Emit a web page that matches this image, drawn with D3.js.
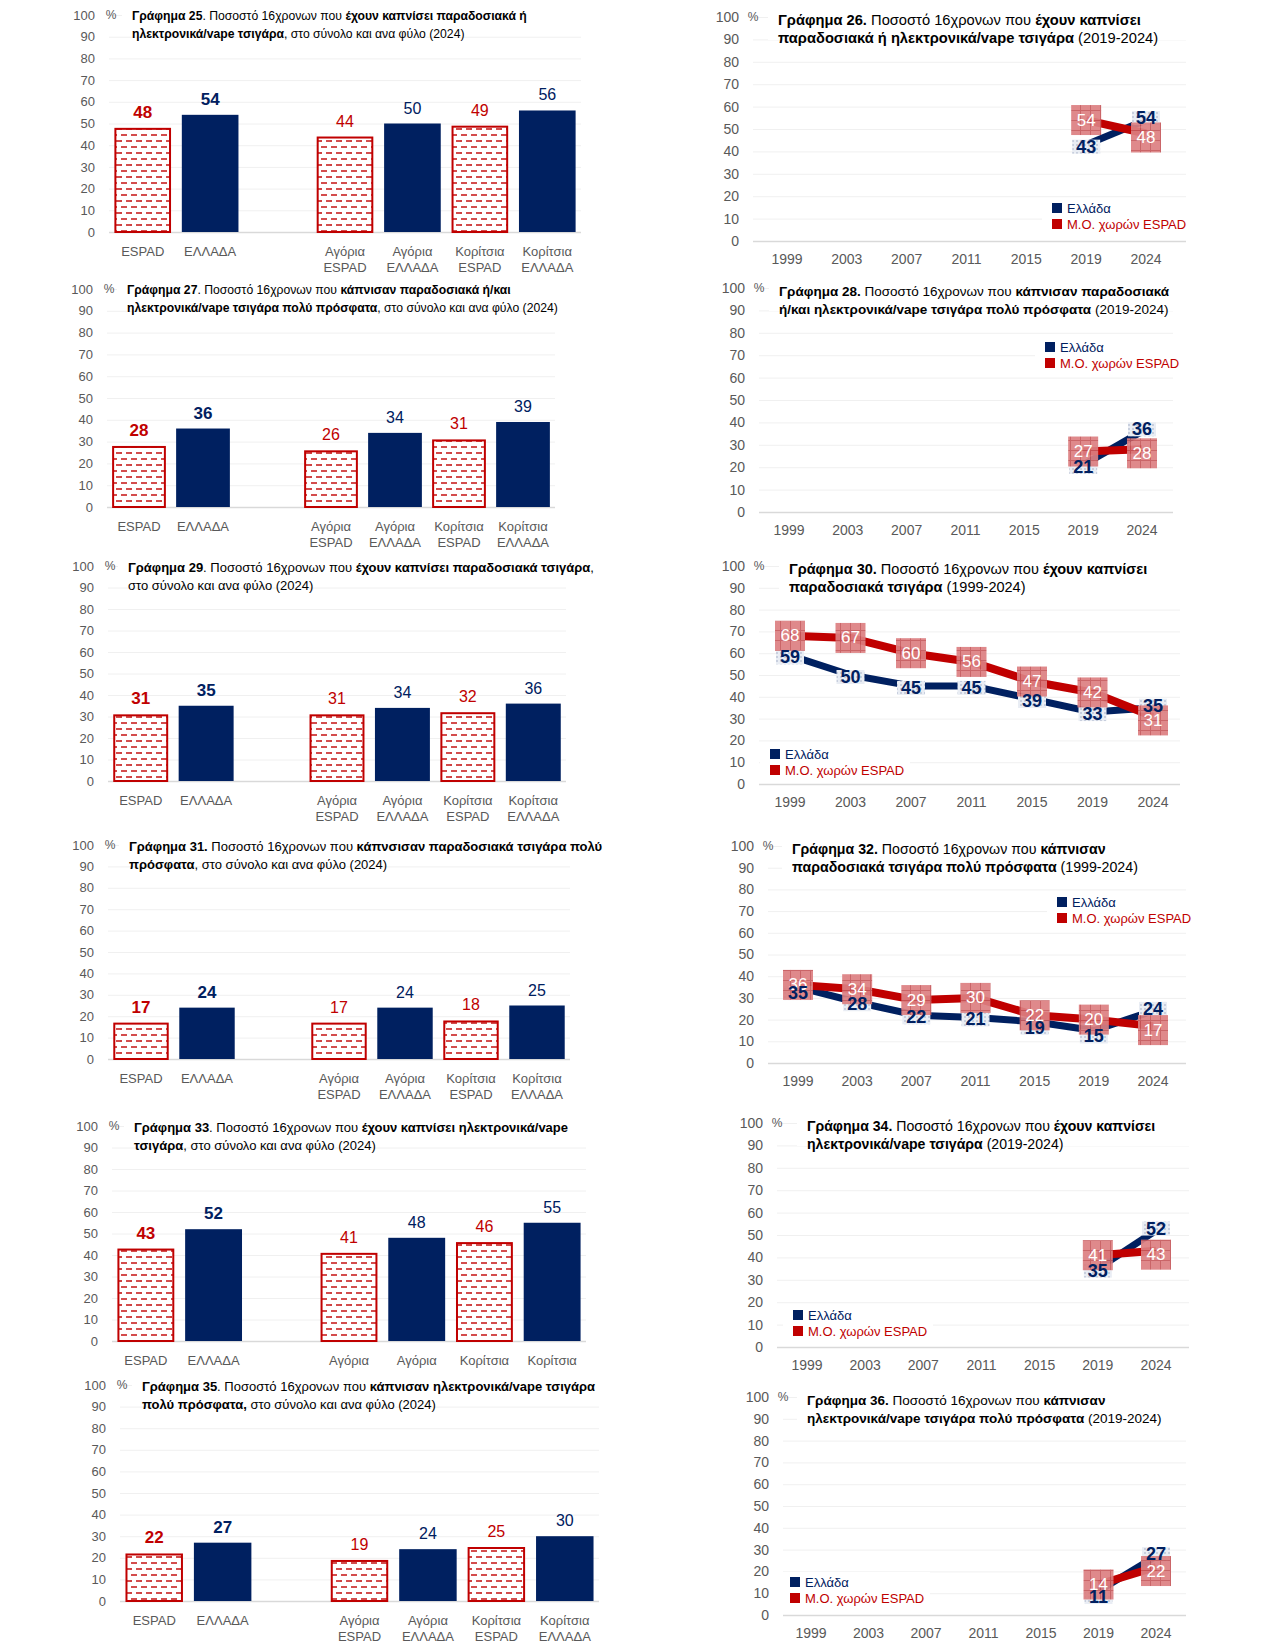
<!DOCTYPE html>
<html>
<head>
<meta charset="utf-8">
<script src="https://cdn.jsdelivr.net/npm/d3@7"></script>
<style>
  body { margin: 0; background: #fff; }
  svg { display: block; }
  text { font-family: "Liberation Sans", Arial, sans-serif; }
</style>
</head>
<body>
<div id="chart"></div>
<script>
// ---------- data ----------
const barKeys = ["ESPAD", "ΕΛΛΑΔΑ", "Αγόρια ESPAD", "Αγόρια ΕΛΛΑΔΑ", "Κορίτσια ESPAD", "Κορίτσια ΕΛΛΑΔΑ"];
const barLabels = [["ESPAD"], ["ΕΛΛΑΔΑ"], ["Αγόρια", "ESPAD"], ["Αγόρια", "ΕΛΛΑΔΑ"], ["Κορίτσια", "ESPAD"], ["Κορίτσια", "ΕΛΛΑΔΑ"]];
const bars25 = [48, 54, 44, 50, 49, 56];
const bars27 = [28, 36, 26, 34, 31, 39];
const bars29 = [31, 35, 31, 34, 32, 36];
const bars31 = [17, 24, 17, 24, 18, 25];
const bars33 = [43, 52, 41, 48, 46, 55];
const bars35 = [22, 27, 19, 24, 25, 30];

const years = ["1999", "2003", "2007", "2011", "2015", "2019", "2024"];
const greece26 = [null, null, null, null, null, 43, 54];
const espad26  = [null, null, null, null, null, 54, 48];
const greece28 = [null, null, null, null, null, 21, 36];
const espad28  = [null, null, null, null, null, 27, 28];
const greece30 = [59, 50, 45, 45, 39, 33, 35];
const espad30  = [68, 67, 60, 56, 47, 42, 31];
const greece32 = [35, 28, 22, 21, 19, 15, 24];
const espad32  = [36, 34, 29, 30, 22, 20, 17];
const greece34 = [null, null, null, null, null, 35, 52];
const espad34  = [null, null, null, null, null, 41, 43];
const greece36 = [null, null, null, null, null, 11, 27];
const espad36  = [null, null, null, null, null, 14, 22];

const yTicks = [0, 10, 20, 30, 40, 50, 60, 70, 80, 90, 100];
const legendNames = ["Ελλάδα", "Μ.Ο. χωρών ESPAD"];

// titles: each line is a list of [text, bold]
const title25 = [[["Γράφημα 25", 1], [". Ποσοστό 16χρονων που ", 0], ["έχουν καπνίσει παραδοσιακά ή", 1]],
                 [["ηλεκτρονικά/vape τσιγάρα", 1], [", στο σύνολο και ανα φύλο (2024)", 0]]];
const title26 = [[["Γράφημα 26.", 1], [" Ποσοστό 16χρονων που ", 0], ["έχουν καπνίσει", 1]],
                 [["παραδοσιακά ή ηλεκτρονικά/vape τσιγάρα", 1], [" (2019-2024)", 0]]];
const title27 = [[["Γράφημα 27", 1], [". Ποσοστό 16χρονων που ", 0], ["κάπνισαν παραδοσιακά ή/και", 1]],
                 [["ηλεκτρονικά/vape τσιγάρα πολύ πρόσφατα", 1], [", στο σύνολο και ανα φύλο (2024)", 0]]];
const title28 = [[["Γράφημα 28.", 1], [" Ποσοστό 16χρονων που ", 0], ["κάπνισαν παραδοσιακά", 1]],
                 [["ή/και ηλεκτρονικά/vape τσιγάρα πολύ πρόσφατα", 1], [" (2019-2024)", 0]]];
const title29 = [[["Γράφημα 29", 1], [". Ποσοστό 16χρονων που ", 0], ["έχουν καπνίσει παραδοσιακά τσιγάρα", 1], [",", 0]],
                 [["στο σύνολο και ανα φύλο (2024)", 0]]];
const title30 = [[["Γράφημα 30.", 1], [" Ποσοστό 16χρονων που ", 0], ["έχουν καπνίσει", 1]],
                 [["παραδοσιακά τσιγάρα", 1], [" (1999-2024)", 0]]];
const title31 = [[["Γράφημα 31.", 1], [" Ποσοστό 16χρονων που ", 0], ["κάπνσισαν παραδοσιακά τσιγάρα πολύ", 1]],
                 [["πρόσφατα", 1], [", στο σύνολο και ανα φύλο (2024)", 0]]];
const title32 = [[["Γράφημα 32.", 1], [" Ποσοστό 16χρονων που ", 0], ["κάπνισαν", 1]],
                 [["παραδοσιακά τσιγάρα πολύ πρόσφατα", 1], [" (1999-2024)", 0]]];
const title33 = [[["Γράφημα 33", 1], [". Ποσοστό 16χρονων που ", 0], ["έχουν καπνίσει ηλεκτρονικά/vape", 1]],
                 [["τσιγάρα", 1], [", στο σύνολο και ανα φύλο (2024)", 0]]];
const title34 = [[["Γράφημα 34.", 1], [" Ποσοστό 16χρονων που ", 0], ["έχουν καπνίσει", 1]],
                 [["ηλεκτρονικά/vape τσιγάρα", 1], [" (2019-2024)", 0]]];
const title35 = [[["Γράφημα 35", 1], [". Ποσοστό 16χρονων που ", 0], ["κάπνισαν ηλεκτρονικά/vape τσιγάρα", 1]],
                 [["πολύ πρόσφατα,", 1], [" στο σύνολο και ανα φύλο (2024)", 0]]];
const title36 = [[["Γράφημα 36.", 1], [" Ποσοστό 16χρονων που ", 0], ["κάπνισαν", 1]],
                 [["ηλεκτρονικά/vape τσιγάρα πολύ πρόσφατα", 1], [" (2019-2024)", 0]]];

// ---------- setup ----------
const RED = "#c00000", NAVY = "#002060", GREY = "#595959";

let svg = d3.select("#chart").append("svg")
    .attr("width", 1275)
    .attr("height", 1650);

let defs = svg.append("defs");

// dashed horizontal hatch for ESPAD bars
let hatch = defs.append("pattern")
    .attr("id", "dashes")
    .attr("patternUnits", "userSpaceOnUse")
    .attr("width", 10).attr("height", 12);
hatch.append("rect").attr("width", 10).attr("height", 12).attr("fill", "#fff");
hatch.append("line").attr("x1", 1).attr("x2", 7).attr("y1", 3).attr("y2", 3)
    .attr("stroke", RED).attr("stroke-width", 1.4);
hatch.append("line").attr("x1", 6).attr("x2", 12).attr("y1", 9).attr("y2", 9)
    .attr("stroke", RED).attr("stroke-width", 1.4);
hatch.append("line").attr("x1", -4).attr("x2", 2).attr("y1", 9).attr("y2", 9)
    .attr("stroke", RED).attr("stroke-width", 1.4);

// small grid for ESPAD label boxes
let grid = defs.append("pattern")
    .attr("id", "grid")
    .attr("patternUnits", "userSpaceOnUse")
    .attr("width", 10).attr("height", 10);
grid.append("rect").attr("width", 10).attr("height", 10).attr("fill", "#dc7f81");
grid.append("path").attr("d", "M0 0.5H10M0.5 0V10")
    .attr("stroke", "#c5585b").attr("stroke-width", 1);

// dotted box behind Greece labels
let dots = defs.append("pattern")
    .attr("id", "dots")
    .attr("patternUnits", "userSpaceOnUse")
    .attr("width", 4).attr("height", 4);
dots.append("rect").attr("width", 4).attr("height", 4).attr("fill", "#e9edf4");
dots.append("circle").attr("cx", 1).attr("cy", 1).attr("r", 0.7).attr("fill", "#8d9bb8");

function drawTitle(g, lines, x, y, size, right) {
    g.append("rect")
        .attr("x", x - 10)
        .attr("y", y - 10)
        .attr("width", right - x + 10)
        .attr("height", 30)
        .attr("fill", "#fff");
    lines.forEach(function(line, i) {
        let t = g.append("text")
            .attr("x", x)
            .attr("y", y + i * 18)
            .attr("dominant-baseline", "central")
            .attr("font-size", size + "px")
            .attr("fill", "#000");
        line.forEach(function(seg) {
            t.append("tspan")
                .attr("font-weight", seg[1] ? "bold" : "normal")
                .text(seg[0]);
        });
    });
}

function drawYAxis(g, y, p, size) {
    let axis = g.append("g")
        .attr("transform", `translate(${p.left},0)`)
        .call(d3.axisLeft(y).tickValues(yTicks).tickSize(-(p.right - p.left)).tickPadding(14));
    axis.select(".domain").remove();
    axis.selectAll(".tick line")
        .attr("stroke", d => d === 0 ? "#d9d9d9" : "#f0f0f0")
        .attr("stroke-width", d => d === 0 ? 1.5 : 1);
    axis.selectAll(".tick text")
        .attr("fill", GREY)
        .attr("font-size", size + "px")
        .attr("font-family", "Liberation Sans, Arial, sans-serif");
    axis.selectAll(".tick").filter(d => d === 0).raise();
}

function barPanel(p, values, title, twoLines) {
    let g = svg.append("g");
    let y = d3.scaleLinear().domain([0, 100]).range([p.y0, p.y100]);
    let x = d3.scaleBand()
        .domain([barKeys[0], barKeys[1], "gap"].concat(barKeys.slice(2)))
        .range([p.left, p.right])
        .paddingInner(0.16)
        .paddingOuter(0.08);

    drawYAxis(g, y, p, 13);
    drawTitle(g, title, p.titleX, p.y100 + 1, p.titleSize, p.right);

    g.append("text")
        .attr("x", p.left + 2).attr("y", p.y100)
        .attr("dominant-baseline", "central")
        .attr("text-anchor", "middle")
        .attr("font-size", "12px").attr("fill", GREY)
        .text("%");

    let data = barKeys.map((k, i) => ({ key: k, value: values[i], i: i }));
    let espad = d => d.i % 2 === 0;

    g.selectAll(".bar")
        .data(data)
        .enter()
        .append("rect")
        .attr("x", d => x(d.key) + (espad(d) ? 1 : 0))
        .attr("y", d => y(d.value) + (espad(d) ? 1 : 0))
        .attr("width", d => x.bandwidth() - (espad(d) ? 2 : 0))
        .attr("height", d => y(0) - y(d.value) - (espad(d) ? 1 : 0))
        .attr("fill", d => espad(d) ? "url(#dashes)" : NAVY)
        .attr("stroke", d => espad(d) ? RED : "none")
        .attr("stroke-width", 2);

    g.selectAll(".val")
        .data(data)
        .enter()
        .append("text")
        .attr("x", d => x(d.key) + x.bandwidth() / 2)
        .attr("y", d => y(d.value) - 10)
        .attr("text-anchor", "middle")
        .attr("font-size", d => d.i < 2 ? "17px" : "16px")
        .attr("font-weight", d => d.i < 2 ? "bold" : "normal")
        .attr("fill", d => espad(d) ? RED : NAVY)
        .text(d => d.value);

    data.forEach(function(d) {
        let lines = twoLines ? barLabels[d.i] : [barLabels[d.i][0]];
        lines.forEach(function(l, j) {
            g.append("text")
                .attr("x", x(d.key) + x.bandwidth() / 2)
                .attr("y", p.y0 + 19 + j * 16)
                .attr("dominant-baseline", "central")
                .attr("text-anchor", "middle")
                .attr("font-size", "13px")
                .attr("fill", GREY)
                .text(l);
        });
    });
}

function linePanel(p, greece, espad, title) {
    let g = svg.append("g");
    let y = d3.scaleLinear().domain([0, 100]).range([p.y0, p.y100]);
    let x = d3.scalePoint().domain(years).range([p.x1, p.x2]);

    drawYAxis(g, y, p, 14);
    drawTitle(g, title, p.titleX, p.y100 + 3, p.titleSize, p.right);

    g.append("text")
        .attr("x", p.left).attr("y", p.y100)
        .attr("dominant-baseline", "central")
        .attr("text-anchor", "middle")
        .attr("font-size", "12px").attr("fill", GREY)
        .text("%");

    g.selectAll(".year")
        .data(years)
        .enter()
        .append("text")
        .attr("x", d => x(d))
        .attr("y", p.y0 + 18)
        .attr("dominant-baseline", "central")
        .attr("text-anchor", "middle")
        .attr("font-size", "14px")
        .attr("fill", GREY)
        .text(d => d);

    // legend with white box over the grid
    g.append("rect")
        .attr("x", p.legX - 10).attr("y", p.legY - 10)
        .attr("width", 150).attr("height", 36)
        .attr("fill", "#fff");
    legendNames.forEach(function(name, i) {
        let col = i === 0 ? NAVY : RED;
        g.append("rect")
            .attr("x", p.legX).attr("y", p.legY + i * 16 - 5)
            .attr("width", 10).attr("height", 10)
            .attr("fill", col);
        g.append("text")
            .attr("x", p.legX + 15).attr("y", p.legY + i * 16)
            .attr("dominant-baseline", "central")
            .attr("font-size", "13px")
            .attr("fill", col)
            .text(name);
    });

    // label nudges where the two series sit close together
    let gData = years.map(function(yr, i) {
        let other = espad[i];
        let dy = 0;
        if (other != null && greece[i] != null) {
            if (greece[i] < other) dy = (other - greece[i] <= 5) ? 6 : 2;
            else dy = -2;
        }
        return { year: yr, value: greece[i], dy: dy };
    }).filter(d => d.value != null);
    let eData = years.map(function(yr, i) {
        let dy = (greece[i] != null && greece[i] > espad[i]) ? 4 : 0;
        return { year: yr, value: espad[i], dy: dy };
    }).filter(d => d.value != null);
    let line = d3.line().x(d => x(d.year)).y(d => y(d.value));

    g.append("path")
        .datum(gData)
        .attr("d", line)
        .attr("fill", "none")
        .attr("stroke", NAVY)
        .attr("stroke-width", 7)
        .attr("stroke-linejoin", "round");

    g.append("path")
        .datum(eData)
        .attr("d", line)
        .attr("fill", "none")
        .attr("stroke", RED)
        .attr("stroke-width", 8)
        .attr("stroke-linejoin", "round");

    g.selectAll(".gbox")
        .data(gData)
        .enter()
        .append("rect")
        .attr("x", d => x(d.year) - 14)
        .attr("y", d => y(d.value) + d.dy - 7)
        .attr("width", 28)
        .attr("height", 14)
        .attr("fill", "url(#dots)");

    g.selectAll(".ebox")
        .data(eData)
        .enter()
        .append("rect")
        .attr("x", d => x(d.year) - 15)
        .attr("y", d => y(d.value) + d.dy - 15)
        .attr("width", 30)
        .attr("height", 30)
        .attr("fill", "url(#grid)")
        .attr("opacity", 0.92);

    g.selectAll(".elabel")
        .data(eData)
        .enter()
        .append("text")
        .attr("x", d => x(d.year))
        .attr("y", d => y(d.value) + d.dy)
        .attr("dominant-baseline", "central")
        .attr("text-anchor", "middle")
        .attr("font-size", "17px")
        .attr("fill", "#fff")
        .text(d => d.value);

    g.selectAll(".glabel")
        .data(gData)
        .enter()
        .append("text")
        .attr("x", d => x(d.year))
        .attr("y", d => y(d.value) + d.dy)
        .attr("dominant-baseline", "central")
        .attr("text-anchor", "middle")
        .attr("font-size", "18px")
        .attr("font-weight", "bold")
        .attr("fill", NAVY)
        .text(d => d.value);
}

// ---------- panels ----------
barPanel({ left: 109, right: 581, y100: 15, y0: 232, titleX: 132, titleSize: 12.2 }, bars25, title25, true);
barPanel({ left: 107, right: 555, y100: 289, y0: 507, titleX: 127, titleSize: 12.2 }, bars27, title27, true);
barPanel({ left: 108, right: 566, y100: 566, y0: 781, titleX: 128, titleSize: 13 }, bars29, title29, true);
barPanel({ left: 108, right: 570, y100: 845, y0: 1059, titleX: 129, titleSize: 13 }, bars31, title31, true);
barPanel({ left: 112, right: 586, y100: 1126, y0: 1341, titleX: 134, titleSize: 13 }, bars33, title33, false);
barPanel({ left: 120, right: 599, y100: 1385, y0: 1601, titleX: 142, titleSize: 13 }, bars35, title35, true);

linePanel({ left: 753, right: 1186, y100: 17, y0: 241, x1: 787, x2: 1146, titleX: 778, titleSize: 14.7, legX: 1052, legY: 208 }, greece26, espad26, title26);
linePanel({ left: 759, right: 1173, y100: 288, y0: 512, x1: 789, x2: 1142, titleX: 779, titleSize: 13.5, legX: 1045, legY: 347 }, greece28, espad28, title28);
linePanel({ left: 759, right: 1180, y100: 566, y0: 784, x1: 790, x2: 1153, titleX: 789, titleSize: 14.5, legX: 770, legY: 754 }, greece30, espad30, title30);
linePanel({ left: 768, right: 1186, y100: 846, y0: 1063, x1: 798, x2: 1153, titleX: 792, titleSize: 14.2, legX: 1057, legY: 902 }, greece32, espad32, title32);
linePanel({ left: 777, right: 1189, y100: 1123, y0: 1347, x1: 807, x2: 1156, titleX: 807, titleSize: 14.1, legX: 793, legY: 1315 }, greece34, espad34, title34);
linePanel({ left: 783, right: 1186, y100: 1397, y0: 1615, x1: 811, x2: 1156, titleX: 807, titleSize: 13.5, legX: 790, legY: 1582 }, greece36, espad36, title36);
</script>
</body>
</html>
